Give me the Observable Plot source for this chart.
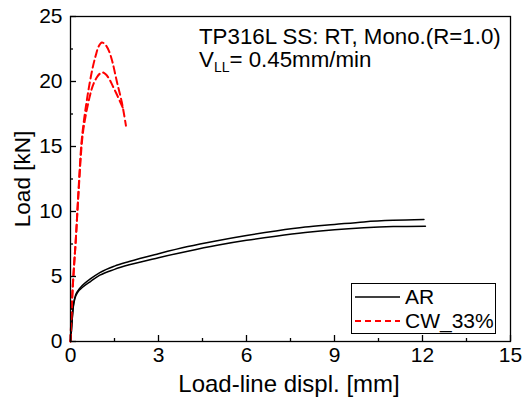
<!DOCTYPE html>
<html><head><meta charset="utf-8">
<script src="https://cdn.jsdelivr.net/npm/d3@7"></script>
<script src="https://cdn.jsdelivr.net/npm/@observablehq/plot@0.6"></script>
<style>
body{margin:0;background:#fff;}
#chart{position:relative;width:530px;height:409px;font-family:"Liberation Sans",Arial,sans-serif;}
#legend{position:absolute;left:351px;top:283px;width:145px;height:51px;border:1px solid #000;background:#fff;box-sizing:border-box;}
#legend .row{position:absolute;left:0;height:24px;display:flex;align-items:center;font-size:21px;}
</style>
</head><body><div id="chart"></div>
<script>
const xTicks = [0, 3, 6, 9, 12, 15];
const yTicks = [0, 5, 10, 15, 20, 25];
const xMinor = [1.5, 4.5, 7.5, 10.5, 13.5];
const yMinor = [2.5, 7.5, 12.5, 17.5, 22.5];
const seriesNames = ["AR", "CW_33%"];

// AR specimens (solid black)
const arX1 = [0, 0.03, 0.06, 0.1, 0.15, 0.25, 0.4, 0.7, 1.0, 1.5, 2, 3, 4, 5, 6, 7, 8, 9, 10, 11, 12.05];
const arY1 = [0, 0.8, 1.8, 2.8, 3.4, 3.9, 4.3, 4.85, 5.3, 5.8, 6.15, 6.75, 7.3, 7.75, 8.15, 8.5, 8.8, 9.0, 9.2, 9.32, 9.38];
const arX2 = [0, 0.03, 0.06, 0.1, 0.15, 0.25, 0.4, 0.7, 1.0, 1.5, 2, 3, 4, 5, 6, 7, 8, 9, 10, 11, 12.1];
const arY2 = [0, 0.8, 1.8, 2.75, 3.3, 3.8, 4.15, 4.65, 5.1, 5.55, 5.9, 6.45, 6.95, 7.4, 7.78, 8.1, 8.38, 8.6, 8.75, 8.84, 8.87];

// CW_33% specimens (dashed red)
const cwX1 = [0, 0.03, 0.07, 0.12, 0.18, 0.27, 0.375, 0.47, 0.56, 0.64, 0.75, 0.86, 0.96, 1.07, 1.2, 1.32, 1.43, 1.58, 1.75, 1.89];
const cwY1 = [0, 1.9, 3.9, 5.8, 7.8, 11.5, 15.3, 17.2, 18.6, 19.7, 21.0, 22.0, 22.7, 23.0, 22.8, 22.3, 21.5, 20.0, 18.4, 16.6];
const cwX2 = [0, 0.03, 0.07, 0.12, 0.18, 0.27, 0.41, 0.52, 0.64, 0.72, 0.81, 0.92, 1.0, 1.09, 1.2, 1.32, 1.43, 1.6, 1.78];
const cwY2 = [0, 1.9, 3.9, 5.8, 7.8, 11.3, 15.8, 17.4, 18.7, 19.4, 19.95, 20.4, 20.6, 20.7, 20.55, 20.2, 19.7, 18.9, 18.0];

function rows(xs, ys, series, spec) {
  return xs.map((x, i) => ({x, y: ys[i], series, spec}));
}
const arRows = [...rows(arX1, arY1, seriesNames[0], "AR-1"), ...rows(arX2, arY2, seriesNames[0], "AR-2")];
const cwRows = [...rows(cwX1, cwY1, seriesNames[1], "CW-1"), ...rows(cwX2, cwY2, seriesNames[1], "CW-2")];

const font = "'Liberation Sans', Arial, sans-serif";
const plot = Plot.plot({
  width: 530, height: 409,
  marginLeft: 70, marginRight: 20, marginTop: 16, marginBottom: 68,
  x: {domain: [0, 15]},
  y: {domain: [0, 25]},
  style: {fontSize: "21px", fontFamily: font, color: "black", background: "white", overflow: "visible"},
  marks: [
    Plot.line(arRows, {x: "x", y: "y", z: "spec", stroke: "black", strokeWidth: 1.5, curve: "monotone-x"}),
    Plot.line(cwRows, {x: "x", y: "y", z: "spec", stroke: "#ff0000", strokeWidth: 2, strokeDasharray: "7,4", curve: "catmull-rom"}),
    Plot.frame({stroke: "black", strokeWidth: 1.3}),
    Plot.axisX({ticks: xTicks, tickSize: -6, tickPadding: 12, strokeWidth: 1.3, label: null, tickFormat: d => String(d)}),
    Plot.axisX({ticks: xMinor, tickSize: -3, tickPadding: 0, strokeWidth: 1.3, label: null, tickFormat: () => ""}),
    Plot.axisY({ticks: yTicks, tickSize: -6, tickPadding: 14, strokeWidth: 1.3, label: null, tickFormat: d => String(d)}),
    Plot.axisY({ticks: yMinor, tickSize: -3, tickPadding: 0, strokeWidth: 1.3, label: null, tickFormat: () => ""})
  ]
});
document.getElementById("chart").appendChild(plot);

const svg = d3.select(plot);
svg.append("text").attr("x", 289).attr("y", 392).attr("text-anchor", "middle")
  .attr("font-size", 24).attr("font-family", font).text("Load-line displ. [mm]");
svg.append("text").attr("transform", "translate(30,179) rotate(-90)").attr("text-anchor", "middle")
  .attr("font-size", 22.5).attr("font-family", font).text("Load [kN]");
svg.append("text").attr("x", 199).attr("y", 44).attr("text-anchor", "start").attr("font-size", 22.3).attr("font-family", font)
  .text("TP316L SS: RT, Mono.(R=1.0)");
const t2 = svg.append("text").attr("x", 199).attr("y", 67).attr("text-anchor", "start").attr("font-size", 22.3).attr("font-family", font);
t2.append("tspan").text("V");
t2.append("tspan").attr("font-size", 14).attr("dy", 5).text("LL");
t2.append("tspan").attr("dy", -5).text("= 0.45mm/min");

// legend
const legend = document.createElement("div");
legend.id = "legend";
const styles = [
  {name: seriesNames[0], stroke: "black", dash: null, w: 1.3},
  {name: seriesNames[1], stroke: "#ff0000", dash: "6,4", w: 2}
];
styles.forEach((s, i) => {
  const row = document.createElement("div");
  row.className = "row";
  row.style.top = (1 + i * 24) + "px";
  row.innerHTML = `<svg width="50" height="24"><line x1="3" x2="48" y1="12" y2="12" stroke="${s.stroke}" stroke-width="${s.w}" ${s.dash ? `stroke-dasharray="${s.dash}"` : ""}/></svg><span style="margin-left:3px">${s.name}</span>`;
  legend.appendChild(row);
});
document.getElementById("chart").appendChild(legend);
</script>
</body></html>
